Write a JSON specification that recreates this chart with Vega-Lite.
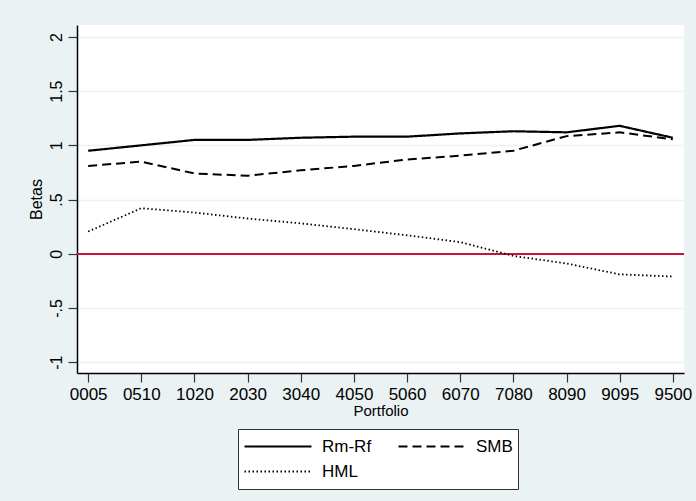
{
  "$schema": "https://vega.github.io/schema/vega-lite/v6.json",
  "width": 607,
  "height": 348,
  "autosize": "none",
  "padding": {"left": 77, "top": 25, "right": 12, "bottom": 128},
  "background": "#EAF2F3",
  "config": {
    "font": "Liberation Sans",
    "view": {"fill": "white", "stroke": null},
    "axis": {
      "domainColor": "black",
      "domainWidth": 1.5,
      "tickColor": "#333333",
      "tickWidth": 1.2,
      "tickSize": 9,
      "labelColor": "black",
      "titleColor": "black",
      "labelFont": "Liberation Sans",
      "titleFont": "Liberation Sans",
      "titleFontWeight": "normal"
    }
  },
  "data": {
    "values": [
      {"portfolio": "0005", "factor": "Rm-Rf", "beta": 0.95},
      {"portfolio": "0510", "factor": "Rm-Rf", "beta": 1.0},
      {"portfolio": "1020", "factor": "Rm-Rf", "beta": 1.05},
      {"portfolio": "2030", "factor": "Rm-Rf", "beta": 1.05},
      {"portfolio": "3040", "factor": "Rm-Rf", "beta": 1.07},
      {"portfolio": "4050", "factor": "Rm-Rf", "beta": 1.08},
      {"portfolio": "5060", "factor": "Rm-Rf", "beta": 1.08},
      {"portfolio": "6070", "factor": "Rm-Rf", "beta": 1.11},
      {"portfolio": "7080", "factor": "Rm-Rf", "beta": 1.13},
      {"portfolio": "8090", "factor": "Rm-Rf", "beta": 1.12},
      {"portfolio": "9095", "factor": "Rm-Rf", "beta": 1.18},
      {"portfolio": "9500", "factor": "Rm-Rf", "beta": 1.07},
      {"portfolio": "0005", "factor": "SMB", "beta": 0.81},
      {"portfolio": "0510", "factor": "SMB", "beta": 0.85},
      {"portfolio": "1020", "factor": "SMB", "beta": 0.74},
      {"portfolio": "2030", "factor": "SMB", "beta": 0.72},
      {"portfolio": "3040", "factor": "SMB", "beta": 0.77},
      {"portfolio": "4050", "factor": "SMB", "beta": 0.81},
      {"portfolio": "5060", "factor": "SMB", "beta": 0.87},
      {"portfolio": "6070", "factor": "SMB", "beta": 0.905},
      {"portfolio": "7080", "factor": "SMB", "beta": 0.95},
      {"portfolio": "8090", "factor": "SMB", "beta": 1.085},
      {"portfolio": "9095", "factor": "SMB", "beta": 1.12},
      {"portfolio": "9500", "factor": "SMB", "beta": 1.055},
      {"portfolio": "0005", "factor": "HML", "beta": 0.205},
      {"portfolio": "0510", "factor": "HML", "beta": 0.42},
      {"portfolio": "1020", "factor": "HML", "beta": 0.38},
      {"portfolio": "2030", "factor": "HML", "beta": 0.325},
      {"portfolio": "3040", "factor": "HML", "beta": 0.28},
      {"portfolio": "4050", "factor": "HML", "beta": 0.227},
      {"portfolio": "5060", "factor": "HML", "beta": 0.17},
      {"portfolio": "6070", "factor": "HML", "beta": 0.107},
      {"portfolio": "7080", "factor": "HML", "beta": -0.02},
      {"portfolio": "8090", "factor": "HML", "beta": -0.09},
      {"portfolio": "9095", "factor": "HML", "beta": -0.19},
      {"portfolio": "9500", "factor": "HML", "beta": -0.21}
    ]
  },
  "layer": [
    {
      "mark": {"type": "rule", "color": "#C8143C", "strokeWidth": 1.5},
      "encoding": {"y": {"datum": 0, "type": "quantitative"}}
    },
    {
      "mark": {"type": "line", "color": "black", "strokeCap": "butt"},
      "encoding": {
        "x": {
          "field": "portfolio",
          "type": "ordinal",
          "sort": null,
          "scale": {"type": "point", "padding": 0.21},
          "axis": {
            "title": "Portfolio",
            "labelAngle": 0,
            "labelFontSize": 17,
            "labelPadding": 4,
            "titleFontSize": 15,
            "titlePadding": 1,
            "grid": false
          }
        },
        "y": {
          "field": "beta",
          "type": "quantitative",
          "scale": {"domain": [-1.1, 2.11], "nice": false, "zero": false},
          "axis": {
            "title": "Betas",
            "values": [-1, -0.5, 0, 0.5, 1, 1.5, 2],
            "labelExpr": "replace(datum.value + '', '0.', '.')",
            "labelAngle": -90,
            "labelFontSize": 16,
            "labelPadding": 4,
            "titleFontSize": 16,
            "titlePadding": 4,
            "grid": true,
            "gridColor": "#EAF2F3",
            "gridWidth": 1.5
          }
        },
        "strokeDash": {
          "field": "factor",
          "type": "nominal",
          "sort": null,
          "scale": {"domain": ["Rm-Rf", "SMB", "HML"], "range": [[1, 0], [9, 5], [1.5, 2.5]]},
          "legend": {
            "orient": "none",
            "legendX": 161,
            "legendY": 404,
            "columns": 2,
            "direction": "horizontal",
            "title": null,
            "symbolType": "stroke",
            "symbolSize": 4489,
            "symbolStrokeColor": "black",
            "symbolStrokeWidth": 2,
            "clipHeight": 25,
            "rowPadding": 0,
            "labelFontSize": 17,
            "labelFont": "Liberation Sans",
            "labelColor": "black",
            "labelOffset": 9,
            "strokeColor": "#333333",
            "fillColor": "white",
            "padding": 5,
            "columnPadding": 25
          }
        },
        "strokeWidth": {
          "field": "factor",
          "type": "nominal",
          "scale": {"domain": ["Rm-Rf", "SMB", "HML"], "range": [2.2, 1.8, 1.5]},
          "legend": null
        }
      }
    }
  ]
}
